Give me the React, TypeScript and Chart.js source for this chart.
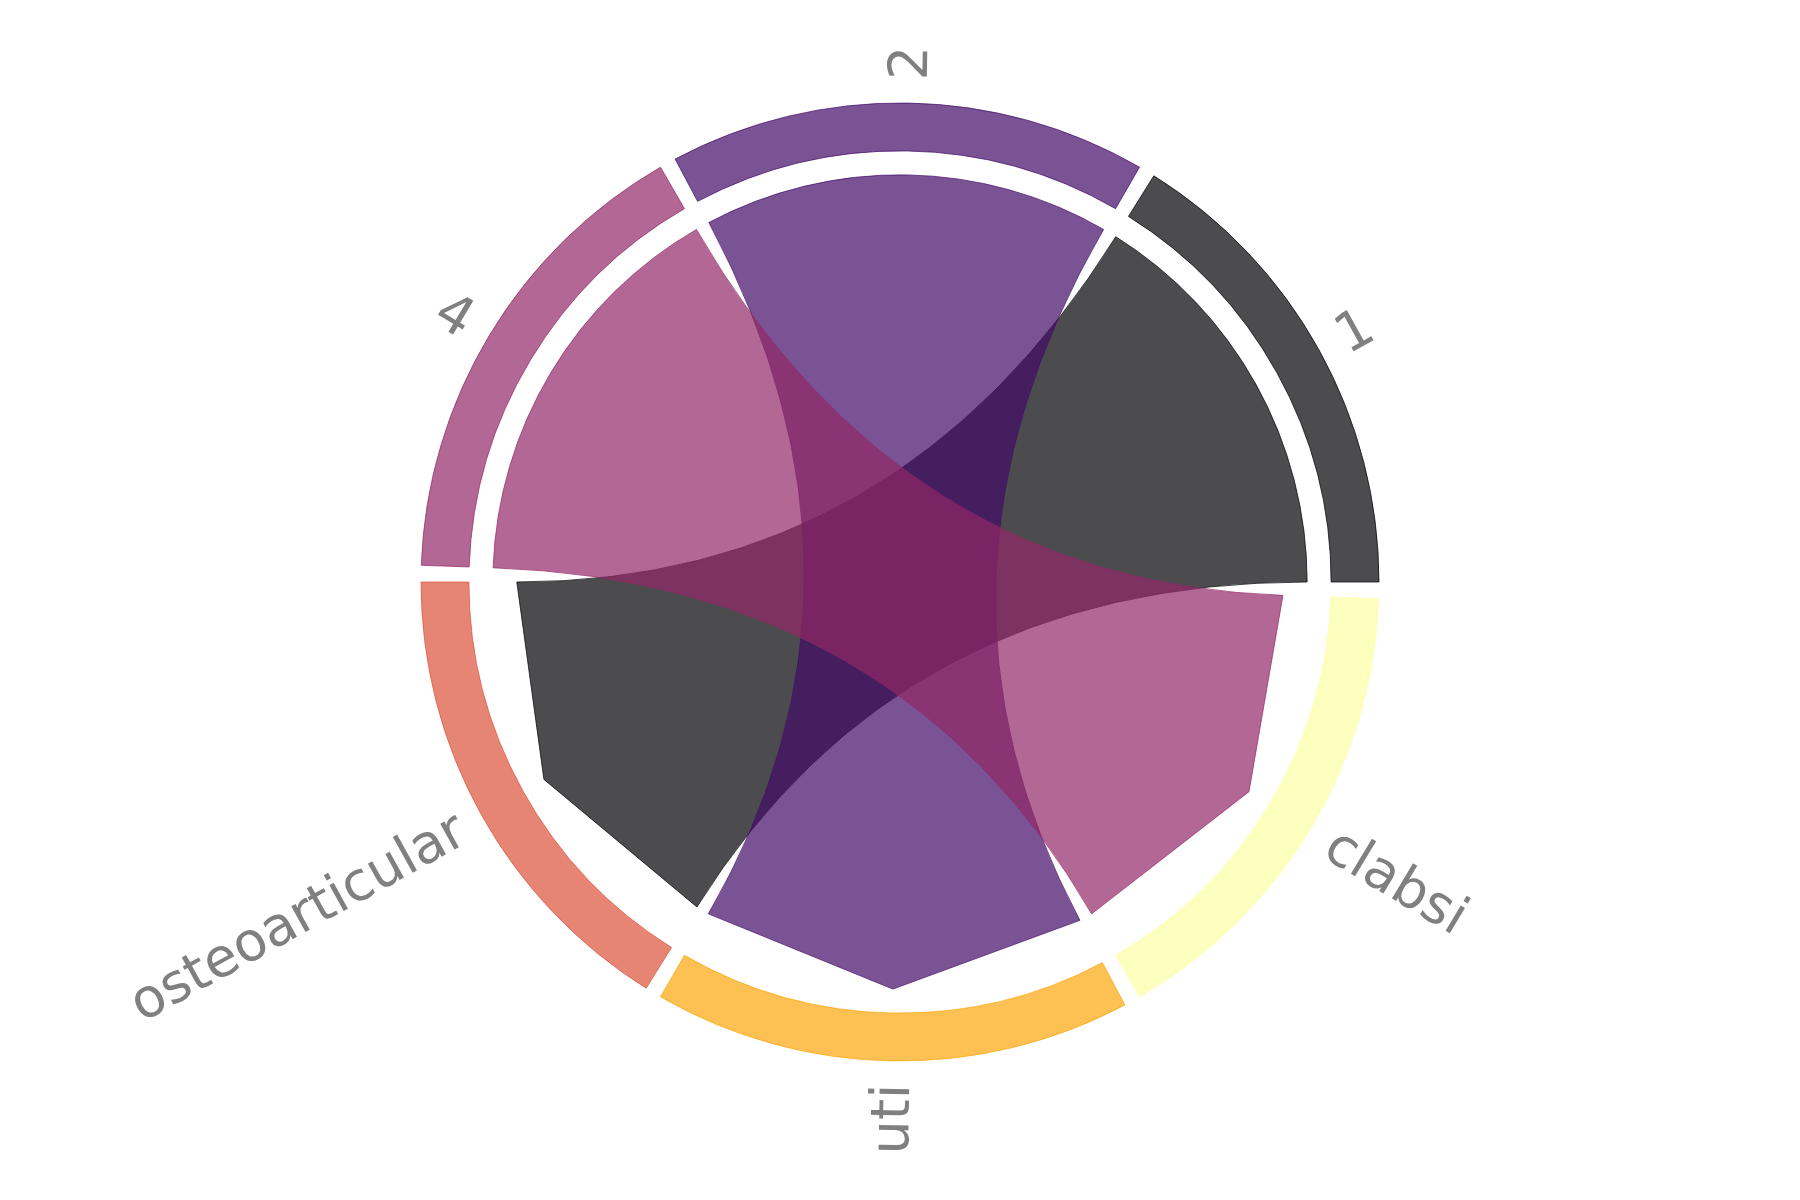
import React, { useEffect, useRef } from "react";
import { Chart, registerables } from "chart.js";

Chart.register(...registerables);

// ---- data ----
const sources = ["1", "2", "4"];
const targets = ["osteoarticular", "uti", "clabsi"];
const values = [1, 1, 1];
// node order, counter-clockwise starting at 3 o'clock
const nodeOrder = ["1", "2", "4", "osteoarticular", "uti", "clabsi"];
// inferno palette
const nodeColors = ["#000004", "#420a68", "#932667", "#dd513a", "#fca50a", "#fcffa4"];

// ---- style constants ----
const GAP_DEG = 2;
const OUTER_R = 479;
const CUTOUT = "90%";
const CHORD_R = 0.85;
const TARGET_R = 0.8;
const FILL_ALPHA = 0.7;
const LABEL_R = 502;
const LABEL_SIZE = 54;
const LABEL_SHIFT = 4;

function rgba(hex: string, a: number) {
  const n = parseInt(hex.slice(1), 16);
  return `rgba(${(n >> 16) & 255},${(n >> 8) & 255},${n & 255},${a})`;
}

const nodeTotals: Record<string, number> = {};
nodeOrder.forEach((n) => (nodeTotals[n] = 0));
sources.forEach((s, i) => {
  nodeTotals[s] += values[i];
  nodeTotals[targets[i]] += values[i];
});
const totalAll = nodeOrder.reduce((acc, n) => acc + nodeTotals[n], 0);
const gapValue = (totalAll * GAP_DEG) / (360 - nodeOrder.length * GAP_DEG);

// clockwise ring order (Chart.js draws clockwise), each node followed by a gap
const clockwise = [...nodeOrder].reverse();
const ringLabels: string[] = [];
const ringValues: number[] = [];
const ringBg: string[] = [];
const ringBorder: string[] = [];
const ringBorderW: number[] = [];
clockwise.forEach((n) => {
  const c = nodeColors[nodeOrder.indexOf(n)];
  ringLabels.push(n);
  ringValues.push(nodeTotals[n]);
  ringBg.push(rgba(c, FILL_ALPHA));
  ringBorder.push(rgba(c, FILL_ALPHA));
  ringBorderW.push(1);
  ringLabels.push("");
  ringValues.push(gapValue);
  ringBg.push("rgba(0,0,0,0)");
  ringBorder.push("rgba(0,0,0,0)");
  ringBorderW.push(0);
});

const chordPlugin = {
  id: "chords",
  afterDatasetsDraw(chart: any) {
    const ctx = chart.ctx as CanvasRenderingContext2D;
    const arcs = chart.getDatasetMeta(0).data as any[];
    const cursors = new Map<string, number>();
    ringLabels.forEach((lab, i) => {
      if (lab) cursors.set(lab, arcs[i].endAngle);
    });
    ctx.save();
    for (let e = 0; e < sources.length; e++) {
      const s = arcs[ringLabels.indexOf(sources[e])];
      const t = arcs[ringLabels.indexOf(targets[e])];
      const cx = s.x;
      const cy = s.y;
      const R = s.outerRadius;
      const rc = R * CHORD_R;
      const rt = R * TARGET_R;
      const sSpan = ((s.endAngle - s.startAngle) * values[e]) / nodeTotals[sources[e]];
      const tSpan = ((t.endAngle - t.startAngle) * values[e]) / nodeTotals[targets[e]];
      const a0 = cursors.get(sources[e]) as number;
      const a1 = a0 - sSpan;
      cursors.set(sources[e], a1);
      const b0 = cursors.get(targets[e]) as number;
      const b1 = b0 - tSpan;
      cursors.set(targets[e], b1);
      const px = (a: number, r: number) => cx + r * Math.cos(a);
      const py = (a: number, r: number) => cy + r * Math.sin(a);
      const color = nodeColors[nodeOrder.indexOf(sources[e])];
      ctx.beginPath();
      ctx.moveTo(px(a0, rc), py(a0, rc));
      ctx.arc(cx, cy, rc, a0, a1, true);
      ctx.quadraticCurveTo(cx, cy, px(b0, rt), py(b0, rt));
      ctx.lineTo(px((b0 + b1) / 2, rc), py((b0 + b1) / 2, rc));
      ctx.lineTo(px(b1, rt), py(b1, rt));
      ctx.quadraticCurveTo(cx, cy, px(a0, rc), py(a0, rc));
      ctx.closePath();
      ctx.fillStyle = rgba(color, FILL_ALPHA);
      ctx.fill();
      ctx.strokeStyle = rgba(color, FILL_ALPHA);
      ctx.lineWidth = 1;
      ctx.stroke();
    }
    // labels
    ctx.font = `${LABEL_SIZE}px 'DejaVu Sans'`;
    ctx.fillStyle = "#808080";
    ctx.textBaseline = "middle";
    ringLabels.forEach((lab, i) => {
      if (!lab) return;
      const a = arcs[i];
      const m = (a.startAngle + a.endAngle) / 2;
      let deg = ((-m * 180) / Math.PI) % 360;
      if (deg < 0) deg += 360;
      const flip = deg > 90 && deg < 270;
      ctx.save();
      ctx.translate(a.x + LABEL_R * Math.cos(m), a.y + LABEL_R * Math.sin(m));
      ctx.rotate(flip ? m + Math.PI : m);
      ctx.textAlign = flip ? "right" : "left";
      ctx.fillText(lab, 0, LABEL_SHIFT);
      ctx.restore();
    });
    ctx.restore();
  },
};

export default function App() {
  const ref = useRef<HTMLCanvasElement | null>(null);
  useEffect(() => {
    if (!ref.current) return;
    const chart = new Chart(ref.current, {
      type: "doughnut",
      data: {
        labels: ringLabels,
        datasets: [
          {
            data: ringValues,
            backgroundColor: ringBg,
            borderColor: ringBorder,
            borderWidth: ringBorderW,
            radius: OUTER_R,
            cutout: CUTOUT,
            hoverOffset: 0,
            offset: 0,
          } as any,
        ],
      },
      options: {
        responsive: false,
        animation: false,
        events: [],
        rotation: 90 + GAP_DEG,
        cutout: CUTOUT,
        radius: OUTER_R,
        layout: { padding: { top: 0, left: 0, right: 0, bottom: 36 } },
        plugins: {
          legend: { display: false },
          tooltip: { enabled: false },
        },
      } as any,
      plugins: [chordPlugin],
    });
    return () => chart.destroy();
  }, []);
  return (
    <div style={{ position: "fixed", left: 0, top: 0, width: 1800, height: 1200, background: "#fff" }}>
      <canvas ref={ref} width={1800} height={1200} style={{ display: "block", width: 1800, height: 1200 }} />
    </div>
  );
}
